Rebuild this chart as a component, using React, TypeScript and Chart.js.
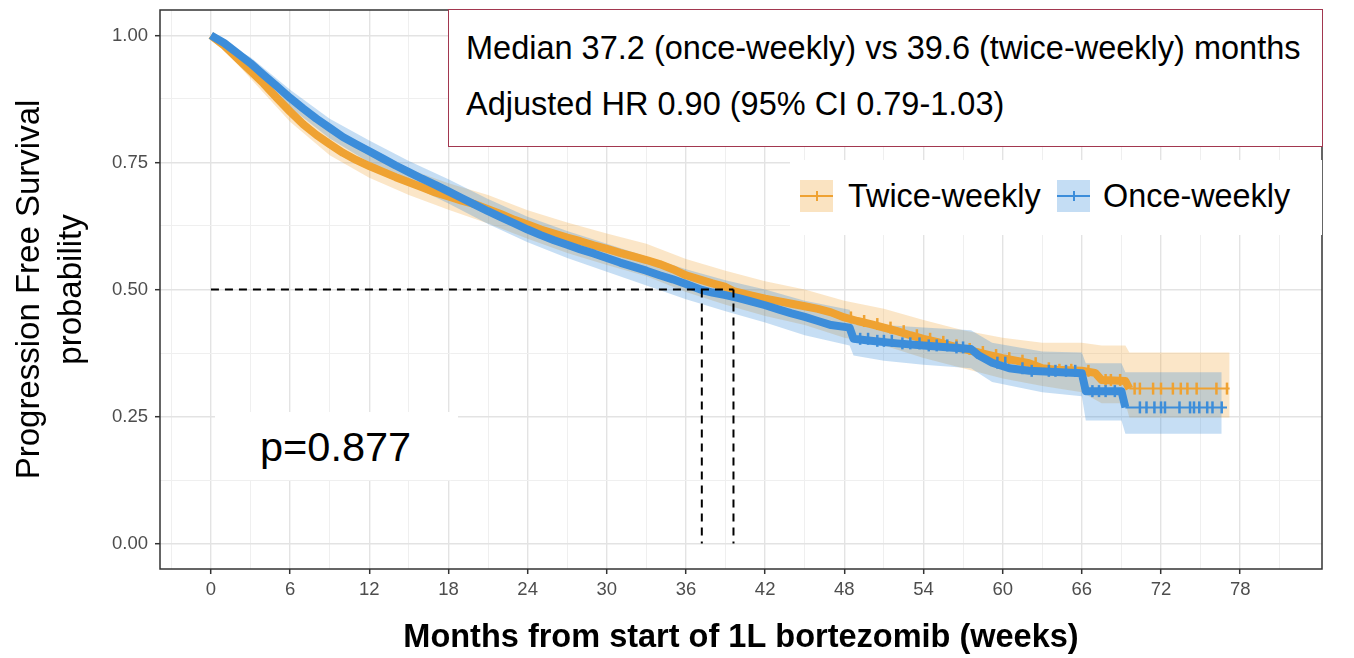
import React, { useEffect, useRef } from "react";
import { Chart, registerables } from "chart.js";

Chart.register(...registerables);

// ---------- data ----------
// Once-weekly (blue) Kaplan-Meier estimate
const onceTimes = [0, 1, 2, 3, 4, 5, 6, 7, 8, 9, 10, 11, 12, 13, 14, 15, 16, 17, 18, 19, 20, 21, 22, 23, 24, 25, 26, 27, 28, 29, 30, 31, 32, 33, 34, 35, 36, 37.2, 38, 39, 40, 41, 42, 43, 44, 45, 46, 47, 48.4, 48.7, 50, 52, 54, 56, 57.6, 58.2, 59.2, 60.5, 62, 66, 66.3, 69, 69.3, 77];
const onceSurv = [1.0, 0.985, 0.965, 0.945, 0.922, 0.9, 0.877, 0.856, 0.836, 0.818, 0.8, 0.786, 0.772, 0.758, 0.744, 0.731, 0.718, 0.706, 0.693, 0.68, 0.667, 0.654, 0.642, 0.63, 0.618, 0.607, 0.597, 0.588, 0.579, 0.571, 0.562, 0.553, 0.545, 0.537, 0.528, 0.52, 0.511, 0.499, 0.494, 0.489, 0.483, 0.476, 0.469, 0.461, 0.453, 0.446, 0.438, 0.43, 0.425, 0.403, 0.399, 0.394, 0.39, 0.386, 0.383, 0.37, 0.356, 0.345, 0.34, 0.335, 0.3, 0.3, 0.268, 0.268];
const onceCiTimes = [0, 3, 6, 9, 12, 15, 18, 21, 24, 27, 30, 33, 36, 39, 42, 45, 48.4, 48.7, 51, 54, 57.6, 59.2, 63, 66, 66.3, 69, 69.3, 76.6];
const onceLower = [1.0, 0.932, 0.858, 0.797, 0.75, 0.707, 0.669, 0.629, 0.593, 0.562, 0.535, 0.508, 0.481, 0.457, 0.435, 0.41, 0.39, 0.37, 0.36, 0.352, 0.345, 0.318, 0.298, 0.29, 0.242, 0.242, 0.216, 0.216];
const onceUpper = [1.0, 0.957, 0.893, 0.836, 0.793, 0.753, 0.717, 0.678, 0.643, 0.615, 0.59, 0.565, 0.54, 0.518, 0.5, 0.478, 0.46, 0.44, 0.43, 0.425, 0.42, 0.395, 0.378, 0.376, 0.355, 0.355, 0.337, 0.337];
const onceCensor = [49.2, 49.8, 50.5, 51, 51.6, 52.4, 53, 53.7, 54.4, 55, 55.8, 56.5, 57, 59.6, 60.2, 61.5, 62.2, 63.5, 64, 64.8, 65.5, 66.8, 67.3, 67.8, 68.5, 70.4, 70.9, 71.5, 72.0, 72.3, 73.4, 74.2, 74.5, 74.9, 75.5, 75.9, 76.6];

// Twice-weekly (orange) Kaplan-Meier estimate
const twiceTimes = [0, 1, 2, 3, 4, 5, 6, 7, 8, 9, 10, 11, 12, 13, 14, 15, 16, 17, 18, 19, 20, 21, 22, 23, 24, 25, 26, 27, 28, 29, 30, 31, 32, 33, 34, 35, 36, 37, 38, 39, 39.6, 41, 42, 43, 44, 45, 46, 47, 48, 49, 50, 51, 52, 53, 54, 55, 56, 57, 58, 59, 60, 61, 62, 63, 64, 66, 67, 67.5, 69.3, 69.6, 77.2];
const twiceSurv = [1.0, 0.98, 0.955, 0.93, 0.905, 0.877, 0.85, 0.825, 0.804, 0.786, 0.769, 0.755, 0.743, 0.732, 0.721, 0.711, 0.701, 0.691, 0.683, 0.675, 0.668, 0.658, 0.648, 0.637, 0.628, 0.618, 0.61, 0.602, 0.595, 0.587, 0.58, 0.572, 0.565, 0.558, 0.55, 0.54, 0.528, 0.52, 0.512, 0.505, 0.497, 0.488, 0.482, 0.477, 0.472, 0.467, 0.462, 0.455, 0.445, 0.438, 0.432, 0.425, 0.418, 0.41, 0.403, 0.397, 0.39, 0.383, 0.377, 0.371, 0.365, 0.36, 0.355, 0.345, 0.342, 0.34, 0.336, 0.322, 0.32, 0.305, 0.305];
const twiceCiTimes = [0, 3, 6, 9, 12, 15, 18, 21, 24, 27, 30, 33, 36, 39, 42, 45, 48, 51, 54, 57, 60, 63, 66, 67.5, 69.3, 69.6, 77.2];
const twiceLower = [1.0, 0.915, 0.83, 0.764, 0.72, 0.686, 0.657, 0.63, 0.6, 0.572, 0.548, 0.526, 0.495, 0.47, 0.448, 0.43, 0.405, 0.39, 0.365, 0.345, 0.325, 0.31, 0.298, 0.276, 0.276, 0.248, 0.248];
const twiceUpper = [1.0, 0.945, 0.87, 0.81, 0.768, 0.737, 0.709, 0.686, 0.656, 0.632, 0.61, 0.59, 0.56, 0.537, 0.516, 0.5, 0.478, 0.462, 0.44, 0.42, 0.405, 0.395, 0.395, 0.39, 0.39, 0.376, 0.376];
const twiceCensor = [48.5, 49.5, 50.5, 51.5, 52.5, 53.5, 54.5, 55.5, 56.5, 57.5, 58.5, 59.5, 60.5, 61.5, 62.5, 63.5, 64.3, 65.2, 66.5, 67.8, 68.2, 68.9, 70.0, 70.4, 71.4, 72.0, 72.9, 73.5, 74.0, 74.7, 76.2, 77.0];

const medianOnce = 37.2;
const medianTwice = 39.6;
const medianLevel = 0.5;

// axes
const xMajorTicks = [0, 6, 12, 18, 24, 30, 36, 42, 48, 54, 60, 66, 72, 78];
const xMinorTicks = [-3, 3, 9, 15, 21, 27, 33, 39, 45, 51, 57, 63, 69, 75, 81];
const yMajorTicks = [0, 0.25, 0.5, 0.75, 1.0];
const yMinorTicks = [0.125, 0.375, 0.625, 0.875];
const X_MIN = -3.86;
const X_MAX = 84.2;
const Y_MIN = -0.05;
const Y_MAX = 1.05;

// texts
const seriesNames = ["Twice-weekly", "Once-weekly"];
const xTitle = "Months from start of 1L bortezomib (weeks)";
const yTitle = ["Progression Free Survival", "probability"];
const annotLine1 = "Median 37.2 (once-weekly) vs 39.6 (twice-weekly) months";
const annotLine2 = "Adjusted HR 0.90 (95% CI 0.79-1.03)";
const pValueText = "p=0.877";

// ---------- styles ----------
const W = 1354;
const H = 658;
const FONT = "'Liberation Sans', Arial, Helvetica, sans-serif";
const BLUE = "#3C8DDA";
const ORANGE = "#EFA232";
const BLUE_BAND = "rgba(60,141,218,0.29)";
const ORANGE_BAND = "rgba(239,162,50,0.27)";
const GRID_MAJOR = "#e3e3e3";
const GRID_MINOR = "#efefef";

const toPoints = (t: number[], v: number[]) => t.map((x, i) => ({ x, y: v[i] }));
const stepAt = (t: number[], v: number[], x: number) => {
  let y = v[0];
  for (let i = 0; i < t.length; i++) if (t[i] <= x) y = v[i];
  return y;
};
const isIn = (arr: number[], v: number) => arr.some((a) => Math.abs(a - v) < 1e-6);

const panelBorder = {
  id: "panelBorder",
  afterDraw(chart: any) {
    const { ctx, chartArea: a } = chart;
    ctx.save();
    ctx.strokeStyle = "#333";
    ctx.lineWidth = 1.5;
    ctx.strokeRect(a.left, a.top, a.right - a.left, a.bottom - a.top);
    ctx.restore();
  },
};

function curveDataset(times: number[], surv: number[], color: string, order: number) {
  const n = times.length;
  return {
    data: toPoints(times, surv),
    showLine: true,
    borderColor: color,
    borderWidth: 8,
    borderJoinStyle: "round",
    pointRadius: 0,
    order,
    segment: {
      borderWidth: (ctx: any) => (ctx.p1DataIndex === n - 1 ? 2 : 8),
    },
  };
}

function censorDataset(cens: number[], times: number[], surv: number[], color: string, order: number) {
  return {
    data: cens.map((c) => ({ x: c, y: stepAt(times, surv, c) })),
    showLine: false,
    pointStyle: "line",
    rotation: 90,
    pointRadius: 6,
    pointBorderWidth: 2.5,
    pointBorderColor: color,
    borderColor: color,
    order,
  };
}

function bandDatasets(times: number[], lower: number[], upper: number[], color: string) {
  return [
    {
      data: toPoints(times, upper),
      showLine: true,
      borderWidth: 0,
      borderColor: "rgba(0,0,0,0)",
      pointRadius: 0,
      backgroundColor: color,
      fill: "+1",
      order: 5,
    },
    {
      data: toPoints(times, lower),
      showLine: true,
      borderWidth: 0,
      borderColor: "rgba(0,0,0,0)",
      pointRadius: 0,
      fill: false,
      order: 5,
    },
  ];
}

function dashDataset(pts: { x: number; y: number }[]) {
  return {
    data: pts,
    showLine: true,
    borderColor: "#000",
    borderWidth: 2,
    borderDash: [8, 6],
    pointRadius: 0,
    order: 0,
  };
}

export default function App() {
  const ref = useRef<HTMLCanvasElement>(null);

  useEffect(() => {
    const canvas = ref.current;
    if (!canvas) return;
    const xTicksAll = [...xMinorTicks, ...xMajorTicks].sort((a, b) => a - b);
    const yTicksAll = [...yMinorTicks, ...yMajorTicks].sort((a, b) => a - b);

    const chart = new Chart(canvas, {
      type: "scatter",
      data: {
        datasets: [
          dashDataset([{ x: 0, y: medianLevel }, { x: medianTwice, y: medianLevel }]),
          dashDataset([{ x: medianOnce, y: medianLevel }, { x: medianOnce, y: 0 }]),
          dashDataset([{ x: medianTwice, y: medianLevel }, { x: medianTwice, y: 0 }]),
          curveDataset(onceTimes, onceSurv, BLUE, 1),
          censorDataset(onceCensor, onceTimes, onceSurv, BLUE, 1),
          curveDataset(twiceTimes, twiceSurv, ORANGE, 2),
          censorDataset(twiceCensor, twiceTimes, twiceSurv, ORANGE, 2),
          ...bandDatasets(onceCiTimes, onceLower, onceUpper, BLUE_BAND),
          ...bandDatasets(twiceCiTimes, twiceLower, twiceUpper, ORANGE_BAND),
        ] as any,
      },
      options: {
        animation: false,
        responsive: false,
        events: [],
        layout: { padding: { left: 0, right: 32, top: 10, bottom: 0 } },
        plugins: {
          legend: { display: false },
          tooltip: { enabled: false },
        },
        scales: {
          x: {
            type: "linear",
            min: X_MIN,
            max: X_MAX,
            afterBuildTicks: (s: any) => {
              s.ticks = xTicksAll.map((v) => ({ value: v }));
            },
            afterFit: (s: any) => {
              s.height = 89;
              s.paddingLeft = 0;
              s.paddingRight = 0;
            },
            ticks: {
              autoSkip: false,
              maxRotation: 0,
              padding: 5,
              color: "#4d4d4d",
              font: { family: FONT, size: 18.5 },
              callback: (v: any) => (isIn(xMajorTicks, Number(v)) ? String(v) : ""),
            },
            grid: {
              color: (c: any) => (isIn(xMajorTicks, c.tick?.value) ? GRID_MAJOR : GRID_MINOR),
              lineWidth: (c: any) => (isIn(xMajorTicks, c.tick?.value) ? 1.4 : 1),
              tickColor: (c: any) => (isIn(xMajorTicks, c.tick?.value) ? "#333" : "rgba(0,0,0,0)"),
              tickLength: 5,
              tickWidth: 1.5,
            },
            border: { display: false },
            title: {
              display: true,
              text: xTitle,
              color: "#000",
              font: { family: FONT, size: 32.5, weight: "bold" },
              padding: { top: 0, bottom: 0 },
            },
          },
          y: {
            type: "linear",
            min: Y_MIN,
            max: Y_MAX,
            afterBuildTicks: (s: any) => {
              s.ticks = yTicksAll.map((v) => ({ value: v }));
            },
            afterFit: (s: any) => {
              s.width = 160;
              s.paddingTop = 0;
              s.paddingBottom = 0;
            },
            ticks: {
              autoSkip: false,
              padding: 7,
              color: "#4d4d4d",
              font: { family: FONT, size: 18.5 },
              callback: (v: any) => (isIn(yMajorTicks, Number(v)) ? Number(v).toFixed(2) : ""),
            },
            grid: {
              color: (c: any) => (isIn(yMajorTicks, c.tick?.value) ? GRID_MAJOR : GRID_MINOR),
              lineWidth: (c: any) => (isIn(yMajorTicks, c.tick?.value) ? 1.4 : 1),
              tickColor: (c: any) => (isIn(yMajorTicks, c.tick?.value) ? "#333" : "rgba(0,0,0,0)"),
              tickLength: 5,
              tickWidth: 1.5,
            },
            border: { display: false },
            title: {
              display: true,
              text: yTitle,
              color: "#000",
              font: { family: FONT, size: 33, lineHeight: 1.27 },
              padding: { top: 9, bottom: 0 },
            },
          },
        },
      } as any,
      plugins: [panelBorder],
    });
    return () => chart.destroy();
  }, []);

  const swatch = (left: number, line: string, band: string) => (
    <div style={{ position: "absolute", left, top: 180, width: 33, height: 32, background: band }}>
      <div style={{ position: "absolute", left: 0, top: 15, width: 33, height: 2, background: line }} />
      <div style={{ position: "absolute", left: 15.5, top: 11, width: 2, height: 10, background: line }} />
    </div>
  );

  const textStyle = (left: number, centerY: number, size: number): React.CSSProperties => ({
    position: "absolute",
    left,
    top: centerY - 25,
    height: 50,
    lineHeight: "50px",
    fontSize: size,
    fontFamily: FONT,
    color: "#000",
    whiteSpace: "nowrap",
  });

  return (
    <div style={{ position: "fixed", left: 0, top: 0, width: W, height: H, background: "#fff", overflow: "hidden" }}>
      <canvas ref={ref} width={W} height={H} style={{ position: "absolute", left: 0, top: 0, width: W, height: H }} />
      {/* annotation box */}
      <div
        style={{
          position: "absolute",
          left: 448,
          top: 9,
          width: 875,
          height: 138,
          boxSizing: "border-box",
          border: "1.5px solid #A2374F",
          background: "#fff",
        }}
      />
      <div style={textStyle(466, 48, 32.5)}>{annotLine1}</div>
      <div style={textStyle(466, 104, 32.5)}>{annotLine2}</div>
      {/* legend */}
      <div style={{ position: "absolute", left: 790, top: 160, width: 532, height: 75, background: "#fff" }} />
      {swatch(800, ORANGE, "rgba(239,162,50,0.3)")}
      <div style={textStyle(848, 196, 32.4)}>{seriesNames[0]}</div>
      {swatch(1057, BLUE, "rgba(60,141,218,0.3)")}
      <div style={textStyle(1103, 196, 32.4)}>{seriesNames[1]}</div>
      {/* p-value */}
      <div style={{ position: "absolute", left: 215, top: 412, width: 243, height: 68, background: "#fff" }} />
      <div style={textStyle(260, 447, 41.5)}>{pValueText}</div>
    </div>
  );
}
